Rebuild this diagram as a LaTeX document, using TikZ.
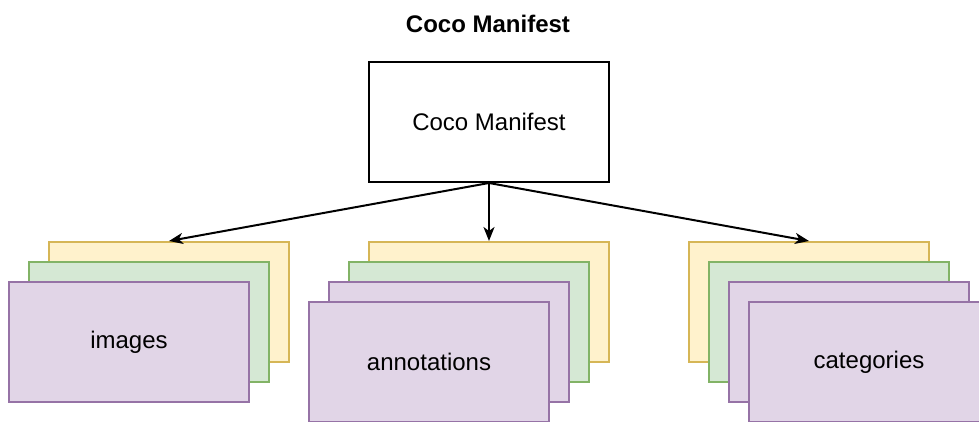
\documentclass[tikz,border=0pt]{standalone}
\usepackage{fontspec}
\setmainfont{Liberation Sans}
\usetikzlibrary{arrows.meta}
\definecolor{yfill}{HTML}{FFF2CC}
\definecolor{ydraw}{HTML}{D6B656}
\definecolor{gfill}{HTML}{D5E8D4}
\definecolor{gdraw}{HTML}{82B366}
\definecolor{pfill}{HTML}{E1D5E7}
\definecolor{pdraw}{HTML}{9673A6}
\begin{document}
\begin{tikzpicture}[x=1pt,y=-1pt,
  card/.style={rectangle, anchor=north west, minimum width=240pt, minimum height=120pt, inner sep=0pt, line width=2pt, font=\fontsize{24}{28}\selectfont},
  ycard/.style={card, draw=ydraw, fill=yfill},
  gcard/.style={card, draw=gdraw, fill=gfill},
  pcard/.style={card, draw=pdraw, fill=pfill},
  mainbox/.style={card, draw=black, fill=white},
  conn/.style={line width=2pt, -{Stealth[length=14pt, width=11pt, inset=4pt]}}]
\useasboundingbox (0,0) rectangle (979,422);
\clip (0,0) rectangle (979,422);
\node[font=\bfseries\fontsize{24}{28}\selectfont] (title) at (488,24) {Coco Manifest};
\node[mainbox] (main) at (368,61) {Coco Manifest};
% images group
\node[ycard] (iy) at (48,241) {};
\node[gcard] (ig) at (28,261) {};
\node[pcard] (ip) at (8,281) {images};
% annotations group
\node[ycard] (ay) at (368,241) {};
\node[gcard] (ag) at (348,261) {};
\node[pcard] (ap1) at (328,281) {};
\node[pcard] (ap2) at (308,301) {annotations};
% categories group
\node[ycard] (cy) at (688,241) {};
\node[gcard] (cg) at (708,261) {};
\node[pcard] (cp1) at (728,281) {};
\node[pcard] (cp2) at (748,301) {categories};
% connectors
\draw[conn] (main.south) -- (iy.north);
\draw[conn] (main.south) -- (ay.north);
\draw[conn] (main.south) -- (cy.north);
\end{tikzpicture}
\end{document}
